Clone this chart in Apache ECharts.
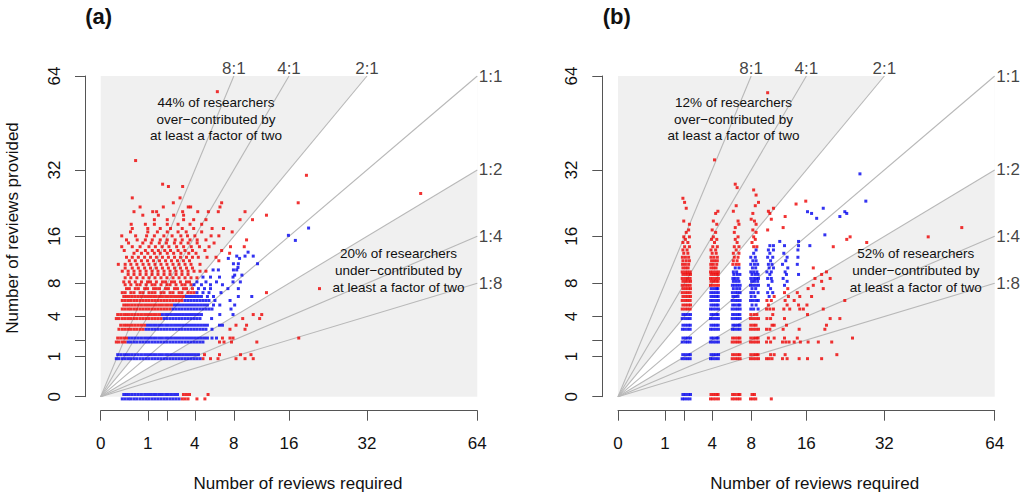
<!DOCTYPE html>
<html>
<head>
<meta charset="utf-8">
<script src="https://cdn.jsdelivr.net/npm/echarts@6/dist/echarts.min.js"></script>
<style>
  html, body { margin: 0; padding: 0; background: #fff; }
  #chart { width: 1024px; height: 499px; }
</style>
</head>
<body>
<div id="chart"></div>
<script type="text/javascript">
// axis ticks (raw review counts, drawn on a square-root scale)
var tickValues = [0, 1, 2, 4, 8, 16, 32, 64];
var labelValues = [0, 1, 4, 8, 16, 32, 64];
var axisMax = 64;

// reference ratio lines (provided : required)
var ratios = [8, 4, 2, 1, 0.5, 0.25, 0.125];
var ratioNames = ['8:1', '4:1', '2:1', '1:1', '1:2', '1:4', '1:8'];

// panel texts
var panelNames = ['(a)', '(b)'];
var overText = ['44% of researchers\nover\u2212contributed by\nat least a factor of two',
                '12% of researchers\nover\u2212contributed by\nat least a factor of two'];
var underText = ['20% of researchers\nunder\u2212contributed by\nat least a factor of two',
                 '52% of researchers\nunder\u2212contributed by\nat least a factor of two'];

// points: each row is [provided, required, required, ...]
// panel (a), researchers inside the factor-of-two band
var aBlue = [
  [-0.003, 0.21,0.27,0.34,0.41,0.5,0.59,0.7,0.81,0.93,1.05,1.19,1.33,1.48,1.64,1.81,1.98,2.17,2.36,2.56,2.77],
  [0.003, 0.24,0.3,0.37,0.45,0.54,0.64,0.75,0.87,0.99,1.12,1.26,1.4,1.56,1.72,1.9,2.07,2.26,2.46,2.66],
  [0.9, 0.11,0.15,0.21,0.27,0.34,0.41,0.5,0.59,0.7,0.81,0.93,1.05,1.19,1.33,1.48,1.64,1.81,1.98,2.17,2.36,2.56,2.77,2.98,3.21,3.44,3.68,3.93,4.18,4.45],
  [1.1, 0.13,0.18,0.24,0.3,0.37,0.45,0.54,0.64,0.75,0.87,0.99,1.12,1.26,1.4,1.56,1.72,1.9,2.07,2.26,2.46,2.66,2.87,3.09,3.32,3.56,3.8,4.05,4.31],
  [1.86, 0.34,0.41,0.5,0.59,0.7,0.81,0.93,1.05,1.19,1.33,1.48,1.64,1.81,1.98,2.17,2.36,2.56,2.77,2.98,3.21,3.44,3.68,3.93,4.18,4.45,4.72],
  [2.14, 0.37,0.45,0.54,0.64,0.75,0.87,0.99,1.12,1.26,1.4,1.56,1.72,1.9,2.07,2.26,2.46,2.66,2.87,3.09,3.32,3.56,3.8,4.05,4.31,4.58,4.86,5.14,5.59,6.05],
  [2.83, 0.93,1.05,1.19,1.33,1.48,1.64,1.81,1.98,2.17,2.36,2.56,2.77,2.98,3.21,3.44,3.68,3.93,4.18,4.45,4.72,5.0,5.59],
  [3.18, 0.99,1.12,1.26,1.4,1.56,1.72,1.9,2.07,2.26,2.46,2.66,2.87,3.09,3.32,3.56,3.8,4.05,4.31,4.58,4.86,5.14,6.37,6.69],
  [3.8, 1.81,1.98,2.17,2.36,2.56,2.77,2.98,3.21,3.44,3.68,3.93,4.18,4.45,5.55],
  [4.2, 1.72,1.9,2.07,2.26,2.46,2.66,2.87,3.09,3.32,3.56,3.8,4.05,4.31,4.58,6.4,7.9],
  [4.78, 2.36,2.56,2.77,2.98,3.21,3.44,3.68,3.93,4.18,4.45,4.72,5.0,5.29,5.59,7.66],
  [5.23, 2.46,2.66,2.87,3.09,3.32,3.56,3.8,4.05,4.31,4.58,4.86,5.14,5.74,6.4,8.1],
  [5.76, 3.21,3.44,3.68,3.93,4.18,4.45,4.72,5.0,5.29,5.89,7.55],
  [6.25, 3.32,3.56,3.8,4.05,4.31,4.58,5.14,5.74,8.55,10.3],
  [6.74, 4.18,4.72,5.29,6.53],
  [7.27, 4.31,4.86,5.44,7.3,8.55],
  [7.8, 3.93,4.58,5.44,6.69],
  [8.2, 4.18,5.0,6.05,7.9,8.8],
  [8.9, 4.72,5.44,6.37,7.9],
  [9.2, 8.1,9.0],
  [10.0, 5.7,6.25,7.95,8.35],
  [10.4, 8.5],
  [11.0, 7.95,8.55,11.1],
  [11.9, 7.35,8.7],
  [12.3, 8.35,9.4,10.5],
  [13.0, 9.8],
  [15.2, 17.1],
  [16.2, 15.9],
  [17.7, 19.5]
];
// panel (a), over- and under-contributors
var aRed = [
  [-0.003, 3.0,3.21,3.44,4.18,4.9],
  [0.003, 3.09,3.32,3.56,5.2],
  [0.9, 4.72,5.44,6.21,8.26,9.4,10.5],
  [1.1, 4.86,6.37,8.82,10.19],
  [1.86, 0.11,0.15,0.21,0.27,6.37,6.86,7.72,11.0],
  [2.14, 0.13,0.18,0.24,0.3,6.69,7.54,7.9,17.7],
  [2.83, 0.15,0.21,0.27,0.34,0.41,0.5,0.59,0.7,0.81,7.54,9.4],
  [3.18, 0.18,0.24,0.3,0.37,0.45,0.54,0.64,0.75,0.87,8.26,9.6],
  [3.8, 0.11,0.15,0.21,0.27,0.34,0.41,0.5,0.59,0.7,0.81,0.93,1.05,1.19,1.33,1.48,1.64,9.1,11.4],
  [4.2, 0.13,0.18,0.24,0.3,0.37,0.45,0.54,0.64,0.75,0.87,0.99,1.12,1.26,1.4,1.56,10.5,11.7],
  [4.78, 0.21,0.27,0.34,0.41,0.5,0.59,0.7,0.81,0.93,1.05,1.19,1.33,1.48,1.64,1.81,1.98,2.17],
  [5.23, 0.24,0.3,0.37,0.45,0.54,0.64,0.75,0.87,0.99,1.12,1.26,1.4,1.56,1.72,1.9,2.07,2.26],
  [5.76, 0.21,0.27,0.34,0.41,0.5,0.59,0.7,0.81,0.93,1.05,1.19,1.33,1.48,1.64,1.81,1.98,2.17,2.36,2.56,2.77,2.98],
  [6.25, 0.24,0.3,0.37,0.45,0.54,0.64,0.75,0.87,0.99,1.12,1.26,1.4,1.56,1.72,1.9,2.07,2.26,2.46,2.66,2.87,3.09],
  [6.74, 0.21,0.27,0.41,0.5,0.7,0.81,1.05,1.19,1.33,1.64,1.81,2.17,2.36,2.77,2.98,3.44,3.68,3.93,12.4],
  [7.27, 0.3,0.37,0.54,0.64,0.87,0.99,1.26,1.4,1.56,1.9,2.07,2.46,2.66,3.09,3.32,3.8,21.6],
  [7.8, 0.27,0.41,0.59,0.7,0.93,1.19,1.33,1.64,1.98,2.17,2.56,2.98,3.21,3.68],
  [8.2, 0.24,0.37,0.54,0.75,0.99,1.12,1.4,1.72,1.9,2.26,2.46,2.87,3.32,3.56],
  [8.8, 0.27,0.41,0.59,0.81,1.05,1.33,1.64,1.98,2.36,2.77,3.21,3.68,4.18],
  [9.3, 0.34,0.5,0.7,0.93,1.19,1.48,1.81,2.17,2.56,2.98,3.44],
  [9.8, 0.21,0.34,0.5,0.7,0.93,1.19,1.48,1.81,2.17,2.56,2.98,3.44,3.93,4.45,5.0],
  [10.3, 0.27,0.45,0.64,0.87,1.12,1.4,1.72,2.07,2.46,2.87,3.32,3.8],
  [10.9, 0.14,0.27,0.41,0.59,0.81,1.05,1.33,1.64,1.98,2.36,2.77,3.21,3.68,4.45],
  [11.5, 0.37,0.54,0.75,0.99,1.26,1.56,1.9,2.26,2.66,3.09,3.56,6.3],
  [12.1, 0.3,0.45,0.64,0.87,1.12,1.4,1.72,2.07,2.46,2.87,3.32,3.8,4.3,5.1,6.0],
  [12.8, 0.5,0.75,1.0,1.3,1.6,2.0,2.4,2.9,3.5,4.1,7.5],
  [13.3, 0.25,0.6,0.9,1.2,1.5,1.85,2.2,2.7,3.2,3.8,4.9,6.6],
  [14.0, 0.2,0.45,0.7,1.05,1.35,1.7,2.1,2.6,3.1,3.7,4.4,5.3,7.6,9.3],
  [14.7, 0.35,0.8,1.15,1.55,1.95,2.45,2.9,3.45,4.2,5.8],
  [15.3, 0.3,0.6,0.9,1.2,1.6,2.0,2.5,3.0,3.6,4.2,5.0,9.6],
  [16.1, 0.2,0.55,0.95,1.3,1.8,2.3,2.9,3.4,4.0,5.5,6.3],
  [16.9, 0.4,1.0,1.45,2.0,2.7,3.3,4.6,7.8],
  [17.6, 0.45,1.0,1.6,2.2,3.0,3.9,5.6,6.8],
  [18.5, 0.42,0.9,1.3,2.0,2.7,3.6,4.6],
  [19.5, 1.3,2.0,3.1,3.9,5.0,8.76,10.4],
  [20.5, 0.8,1.5,2.4,3.1,12.4],
  [21.3, 0.5,1.22,1.41,3.03,4.25,5.23,6.24,9.4],
  [22.4, 0.7,1.77,3.46,3.65,6.42],
  [23.4, 2.38,6.6,17.6],
  [24.6, 0.45,2.84],
  [25.7, 46.2],
  [27.5, 2.07,3.03],
  [28.1, 1.73],
  [30.5, 19.1],
  [34.7, 0.55],
  [57.9, 6.14]
];
// panel (b), inside the band
var bBlue = [
  [-0.003, 1.86,2.0,2.17,2.34],
  [0.003, 1.9,2.05,2.22,2.37],
  [0.9, 1.85,2.01,2.18,2.35,3.86,4.06,4.3,4.54],
  [1.1, 1.89,2.05,2.22,2.36,3.9,4.12,4.34,4.56],
  [1.86, 1.86,2.03,2.18,2.34,3.85,4.08,4.31,4.55],
  [2.14, 1.9,2.06,2.21,2.37,3.9,4.1,4.35,4.52],
  [2.83, 1.87,2.02,2.19,2.35,3.86,4.07,4.3,4.55,5.9,6.15,6.45,6.72],
  [3.18, 1.9,2.06,2.22,2.36,3.9,4.12,4.33,4.53,5.95,6.2,6.48,6.7],
  [3.8, 1.86,2.03,2.19,2.35,3.86,4.08,4.31,4.55,5.88,6.16,6.44,6.73],
  [4.2, 1.9,2.05,2.21,2.37,3.9,4.11,4.35,4.52,5.92,6.2,6.47,6.7],
  [4.78, 3.86,4.08,4.31,4.55,5.88,6.16,6.44,6.73,7.95,8.3,8.85],
  [5.23, 3.9,4.12,4.34,4.52,5.93,6.2,6.5,6.7,8.1,8.6],
  [5.76, 3.87,4.08,4.31,4.55,5.88,6.16,6.44,6.73,7.92,8.25,8.6,8.88],
  [6.25, 3.9,4.12,4.35,4.53,5.95,6.22,6.5,8.0,8.45,10.3],
  [6.74, 3.88,4.1,4.32,4.54,5.9,6.2,6.45,6.72,7.95,8.3,8.85,10.1,10.8],
  [7.27, 3.92,4.15,4.38,4.5,6.0,6.35,6.68,8.1,8.55,10.5],
  [7.72, 5.9,6.16,6.44,6.73,7.92,8.24,8.56,8.9,10.2,12.5],
  [8.28, 6.0,6.3,6.6,8.05,8.4,8.8,10.7,12.9],
  [8.7, 5.95,6.2,6.5,7.95,8.3,8.6,8.9,10.1,10.6,12.3],
  [9.3, 6.05,6.4,6.7,8.1,8.5,8.85,10.4,12.8,14.7],
  [9.69, 6.0,6.35,7.95,8.3,8.7,10.0,10.6,12.6],
  [10.32, 6.2,6.6,8.15,8.55,10.3,10.9,13.0],
  [10.9, 7.95,8.4,8.8,10.2,10.7,12.2,14.5],
  [11.5, 8.2,8.6,10.5,12.7],
  [12.1, 7.95,8.5,10.1,10.8,12.9,14.6],
  [12.8, 8.3,10.4,12.4],
  [13.4, 8.6,10.2,10.9,14.6],
  [14.2, 10.4,10.9,12.5,14.7,16.6],
  [15.0, 11.8,14.7],
  [16.3, 19.3],
  [19.8, 17.8],
  [20.2, 22.2],
  [20.9, 16.9,23.6],
  [21.3, 16.2,23.2],
  [22.1, 19.0],
  [23.8, 27.7],
  [30.9, 26.4]
];
// panel (b), over- and under-contributors
var bRed = [
  [-0.003, 3.86,4.07,4.3,4.55,5.88,6.15,6.44,6.72,7.92,8.24,8.56,10.6],
  [0.003, 3.9,4.12,4.34,4.52,5.92,6.2,6.5,6.7,8.1,8.4],
  [0.9, 5.88,6.16,6.44,6.73,7.91,8.24,8.56,8.9,9.95,10.3,10.7,12.2,12.9,14.8,16.2,18.7],
  [1.1, 5.92,6.2,6.48,6.7,7.95,8.3,8.6,8.85,10.5,11.0,12.6,21.6],
  [1.86, 5.88,6.16,6.44,6.73,7.91,8.24,8.56,8.9,9.95,10.5,12.2,12.7,13.2,14.0,15.0,16.3,18.1,20.6],
  [2.14, 5.92,6.2,6.48,6.7,7.95,8.3,8.6,8.85,10.2,11.0,12.5,14.5,24.8],
  [2.83, 7.91,8.24,8.56,8.9,9.95,10.4,12.3,14.8,19.3],
  [3.18, 7.95,8.3,8.6,10.7,11.0,12.8,19.6],
  [3.8, 7.91,8.24,8.56,8.9,10.0,10.5,12.5,20.3,22.2],
  [4.2, 7.95,8.35,8.7,10.8,16.2],
  [4.78, 1.86,2.02,2.18,2.35,9.95,10.4,10.9,12.4,13.3,14.9,15.5,19.0],
  [5.23, 1.9,2.06,2.22,2.37,10.2,12.9,14.7,16.1],
  [5.76, 1.86,2.02,2.18,2.35,10.0,10.6,12.6,14.0,23.2],
  [6.25, 1.9,2.06,2.22,2.37,11.0,13.1,14.9,16.9],
  [6.74, 1.86,2.02,2.18,2.35,12.5,14.5],
  [7.27, 1.9,2.06,2.22,2.37,13.0,16.3,19.0],
  [7.72, 1.86,2.02,2.18,2.35,3.86,4.08,4.31,4.55,17.2],
  [8.28, 1.9,2.06,2.22,2.37,3.9,4.12,4.34,4.52,18.7],
  [8.7, 1.86,2.02,2.18,2.35,3.86,4.08,4.31,4.55,17.5,20.3],
  [9.3, 1.9,2.06,2.22,2.37,3.9,4.12,4.34,4.52,18.7],
  [9.69, 1.86,2.02,2.18,2.35,3.86,4.08,4.31,4.55,19.6],
  [10.32, 1.9,2.06,2.22,3.9,4.12,4.34,17.2],
  [10.9, 1.88,2.05,2.25,3.88,4.1,4.4,5.95,6.3,6.6],
  [11.5, 1.9,2.1,2.3,3.95,4.2,4.45,6.0,6.4],
  [12.1, 1.87,2.05,2.25,3.9,4.15,4.45,6.1,6.5],
  [12.8, 1.95,2.2,4.0,4.35,6.0,6.6],
  [13.4, 1.9,2.15,3.9,4.3,6.3],
  [14.0, 2.0,2.3,4.05,4.45,6.1,6.6,8.3,8.7,20.9],
  [14.8, 1.9,2.2,4.2,6.4,8.1,27.9],
  [15.4, 2.05,3.95,4.4,6.2,8.5,23.6],
  [15.9, 1.95,2.3,4.1,6.5,8.3,24.3,43.4],
  [16.8, 2.1,4.3,6.1,8.6],
  [17.3, 2.25,4.0,8.2,10.1],
  [17.8, 6.2,12.3,53.3],
  [18.5, 2.3,4.4,6.6,8.6],
  [19.2, 1.95,4.1,6.5,8.4],
  [19.6, 8.0,10.6],
  [20.2, 12.6],
  [20.9, 4.3,8.2,10.4],
  [21.4, 4.5,6.0,10.2],
  [22.1, 2.1,10.9],
  [22.7, 6.3,8.5],
  [23.1, 14.3],
  [23.5, 2.0,8.9],
  [23.8, 15.9],
  [24.5, 1.9],
  [25.3, 8.6],
  [26.6, 8.3],
  [27.2, 6.4],
  [28.1, 6.2],
  [34.9, 4.2],
  [57.5, 10.1]
];

// square-root scale (signed so the jitter round zero stays visible)
function tr(v) {
	return v < 0 ? -Math.sqrt(-v) : Math.sqrt(v);
}

function rowsToPoints(rows) {
	var out = [];
	rows.forEach(function(r) {
		for(var i = 1; i < r.length; i++) {
			out.push([tr(r[i]), tr(r[0])]);
		}
	});
	return out;
}

// where a ratio line leaves the 64 x 64 box
function endPoint(k) {
	return k >= 1 ? [tr(axisMax / k), tr(axisMax)] : [tr(axisMax), tr(axisMax * k)];
}

var font = '"Liberation Sans", Arial, Helvetica, sans-serif';
var axisColor = '#555';

function makeX(i) {
	return {
		gridIndex: i, type: 'value', min: 0, max: tr(axisMax), offset: 14,
		axisLine: { show: true, onZero: false, lineStyle: { color: axisColor, width: 1 } },
		axisTick: { show: true, length: 10, customValues: tickValues.map(tr), lineStyle: { color: axisColor, width: 1 } },
		axisLabel: {
			customValues: labelValues.map(tr), margin: 24, fontSize: 17, color: '#111', fontFamily: font,
			formatter: function(v) { return Math.round(v * v); }
		},
		splitLine: { show: false }
	};
}

function makeY(i) {
	return {
		gridIndex: i, type: 'value', min: 0, max: tr(axisMax), offset: 15.7,
		axisLine: { show: true, onZero: false, lineStyle: { color: axisColor, width: 1 } },
		axisTick: { show: true, length: 10, customValues: tickValues.map(tr), lineStyle: { color: axisColor, width: 1 } },
		axisLabel: {
			customValues: labelValues.map(tr), margin: 22, rotate: 90, fontSize: 17, color: '#111', fontFamily: font,
			formatter: function(v) { return Math.round(v * v); }
		},
		splitLine: { show: false }
	};
}

function panelSeries(i, red, blue) {
	return [{
		// the white wedge between the 2:1 and 1:2 lines
		type: 'custom', xAxisIndex: i, yAxisIndex: i, silent: true, z: 1,
		data: [[0, 0]],
		renderItem: function(params, api) {
			var pts = [[0, 0], endPoint(2), [tr(axisMax), tr(axisMax)], endPoint(0.5)].map(function(p) {
				return api.coord(p);
			});
			return { type: 'polygon', shape: { points: pts }, style: { fill: '#ffffff' } };
		}
	}, {
		type: 'lines', coordinateSystem: 'cartesian2d', xAxisIndex: i, yAxisIndex: i, silent: true, z: 2,
		lineStyle: { color: '#b8b8b8', width: 1.1, opacity: 1 },
		data: ratios.map(function(k) { return { coords: [[0, 0], endPoint(k)] }; })
	}, {
		type: 'scatter', xAxisIndex: i, yAxisIndex: i, silent: true, z: 3, clip: false,
		symbolSize: 1, itemStyle: { color: 'rgba(0,0,0,0)' },
		data: ratios.map(function(k, j) {
			return {
				value: endPoint(k),
				label: {
					show: true, formatter: ratioNames[j], position: k > 1 ? 'top' : 'right',
					distance: k > 1 ? -1 : 1, fontSize: 17, color: '#111', fontFamily: font
				}
			};
		})
	}, {
		type: 'scatter', xAxisIndex: i, yAxisIndex: i, silent: true, z: 4, clip: false,
		symbol: 'rect', symbolSize: 3, itemStyle: { color: '#ee0000' },
		data: rowsToPoints(red)
	}, {
		type: 'scatter', xAxisIndex: i, yAxisIndex: i, silent: true, z: 4, clip: false,
		symbol: 'rect', symbolSize: 3, itemStyle: { color: '#0000ee' },
		data: rowsToPoints(blue)
	}];
}

function txt(x, y, s, size, extra) {
	var style = {
		text: s, fontSize: size, fontFamily: font, fill: '#111',
		align: 'center', verticalAlign: 'middle', textAlign: 'center', textVerticalAlign: 'middle'
	};
	for(var k in (extra || {})) { style[k] = extra[k]; }
	return { type: 'text', x: x, y: y, z: 10, style: style };
}

var chart = echarts.init(document.getElementById('chart'), null, { renderer: 'svg' });

var yTitle = txt(12.5, 228, 'Number of reviews provided', 17);
yTitle.rotation = Math.PI / 2;

chart.setOption({
	animation: false,
	backgroundColor: '#ffffff',
	grid: [
		{ left: 100.7, top: 76, width: 376.6, height: 320.7, show: true, backgroundColor: '#f0f0f0', borderWidth: 0, containLabel: false, outerBoundsMode: 'none' },
		{ left: 618, top: 76, width: 376.7, height: 320.7, show: true, backgroundColor: '#f0f0f0', borderWidth: 0, containLabel: false, outerBoundsMode: 'none' }
	],
	xAxis: [makeX(0), makeX(1)],
	yAxis: [makeY(0), makeY(1)],
	series: panelSeries(0, aRed, aBlue).concat(panelSeries(1, bRed, bBlue)),
	graphic: { elements: [
		txt(98.7, 16.5, panelNames[0], 22, { fontWeight: 'bold' }),
		txt(616.8, 16.5, panelNames[1], 22, { fontWeight: 'bold' }),
		txt(216, 119, overText[0], 13.5, { lineHeight: 16.7 }),
		txt(398.5, 270.5, underText[0], 13.5, { lineHeight: 16.7 }),
		txt(733.5, 119, overText[1], 13.5, { lineHeight: 16.7 }),
		txt(915.8, 270.5, underText[1], 13.5, { lineHeight: 16.7 }),
		txt(298, 483, 'Number of reviews required', 17),
		txt(814.7, 483, 'Number of reviews required', 17),
		yTitle
	] }
});
</script>
</body>
</html>
